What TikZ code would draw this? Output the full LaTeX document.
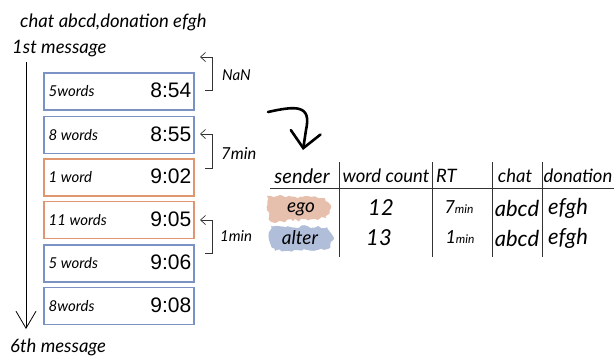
\documentclass[tikz,border=0pt]{standalone}
\usepackage{fontspec}
\setmainfont{Lato}
\newfontfamily\timefont{Liberation Sans}
\usetikzlibrary{arrows.meta,decorations.pathmorphing}
\definecolor{boxblue}{RGB}{122,146,196}
\definecolor{boxorange}{RGB}{224,150,110}
\definecolor{blobor}{RGB}{222,170,145}
\definecolor{blobbl}{RGB}{150,168,205}
\tikzset{
  msg/.style={draw=#1, line width=1.1pt, minimum width=150pt, minimum height=37pt, inner sep=0pt},
  hand/.style={font=\fontsize{15}{15}\selectfont\itshape, inner sep=0pt},
  bighand/.style={font=\fontsize{18.5}{18.5}\selectfont\itshape, inner sep=0pt},
  cellhand/.style={font=\fontsize{22}{22}\selectfont\itshape, inner sep=0pt},
  tim/.style={font=\timefont\fontsize{21}{21}\selectfont, inner sep=0pt, anchor=east},
  brk/.style={line width=0.7pt, black!80, -{Straight Barb[length=5pt,width=9pt]}},
  tline/.style={line width=0.7pt, black!80},
  blob/.style={fill=#1, fill opacity=0.75, decorate, decoration={random steps, segment length=3pt, amplitude=1.5pt}}
}
\begin{document}
\begin{tikzpicture}[x=1pt,y=-1pt]
\useasboundingbox (0,0) rectangle (614,360);
\pgfmathsetseed{7}
% headings
\node[bighand, anchor=west] (title) at (20,22) {chat abcd,donation efgh};
\node[bighand, anchor=west] (first) at (12,49) {1st message};
\node[bighand, anchor=west] (last) at (10,347) {6th message};
% time line
\coordinate (ttop) at (26,62);
\coordinate (tbot) at (26,329);
\draw[line width=0.8pt, -{Straight Barb[length=17pt,width=20pt]}] (ttop) -- (tbot);
% message boxes
\node[msg=boxblue] (m1) at (119,91.5) {};
\node[msg=boxblue] (m2) at (119,135) {};
\node[msg=boxorange] (m3) at (119,177.5) {};
\node[msg=boxorange] (m4) at (119,220) {};
\node[msg=boxblue] (m5) at (119,263.5) {};
\node[msg=boxblue] (m6) at (119,306) {};
\foreach \n/\w/\t in {m1/5words/8:54, m2/8 words/8:55, m3/1 word/9:02, m4/11 words/9:05, m5/5 words/9:06, m6/8words/9:08}{
  \node[hand, anchor=west] (\n w) at ([xshift=5pt]\n.west) {\w};
  \node[tim] (\n t) at ([xshift=-3pt,yshift=1pt]\n.east) {\t};
}
% brackets
\coordinate (b1a) at (205,90); \coordinate (b1b) at (212,90); \coordinate (b1c) at (212,57); \coordinate (b1d) at (200,57);
\draw[brk] (b1a) -- (b1b) -- (b1c) -- (b1d);
\node[hand, anchor=west] (nan) at (222,75) {NaN};
\coordinate (b2a) at (205,168); \coordinate (b2b) at (212,168); \coordinate (b2c) at (212,134); \coordinate (b2d) at (200,134);
\draw[brk] (b2a) -- (b2b) -- (b2c) -- (b2d);
\node[hand, anchor=west, font=\fontsize{16.5}{16.5}\selectfont\itshape] (s7) at (221,153) {7min};
\coordinate (b3a) at (205,253); \coordinate (b3b) at (212,253); \coordinate (b3c) at (212,220); \coordinate (b3d) at (200,220);
\draw[brk] (b3a) -- (b3b) -- (b3c) -- (b3d);
\node[hand, anchor=west] (s1) at (220,236) {1min};
% curved arrow
\coordinate (ca) at (268,112);
\coordinate (cb) at (303,150);
\draw[line width=2.6pt, line cap=round, -{Straight Barb[length=16pt,width=30pt,line cap=round]}] (ca) .. controls (295,106) and (312,104) .. (306,130) -- (cb);
% table
\coordinate (hl) at (270,188); \coordinate (hr) at (614,188);
\draw[tline] (hl) -- (hr);
\foreach \x [count=\i] in {339,432,492,542}{
  \coordinate (vt\i) at (\x,162); \coordinate (vb\i) at (\x,257);
  \draw[tline] (vt\i) -- (vb\i);
}
\node[bighand, font=\fontsize{20}{20}\selectfont\itshape] (hs) at (302,176) {sender};
\node[bighand] (hw) at (386,176) {word count};
\node[bighand, anchor=west] (hrt) at (436,176) {RT};
\node[bighand] (hc) at (515,176) {chat};
\node[bighand] (hd) at (578,176) {donation};
% blobs
\fill[blob=blobor] (267,196) -- (325,198) -- (331,208) -- (326,218) -- (271,222) -- (267,210) -- cycle;
\fill[blob=blobbl] (271,226) -- (327,227) -- (334,238) -- (328,249) -- (275,251) -- (269,240) -- cycle;
\node[hand, font=\fontsize{19}{19}\selectfont\itshape] (ego) at (301,209) {ego};
\node[hand, font=\fontsize{19}{19}\selectfont\itshape] (alter) at (300,238) {alter};
\node[cellhand] (w1) at (381,208) {12};
\node[cellhand] (w2) at (379,238) {13};
\node[hand, font=\fontsize{18}{18}\selectfont\itshape] (r1) at (459,207) {7\fontsize{12}{12}\selectfont min};
\node[hand, font=\fontsize{18}{18}\selectfont\itshape] (r2) at (460,237) {1\fontsize{12}{12}\selectfont min};
\node[cellhand] (c1) at (517,208) {abcd};
\node[cellhand] (c2) at (517,238) {abcd};
\node[cellhand] (d1) at (568,208) {efgh};
\node[cellhand] (d2) at (568,238) {efgh};
\end{tikzpicture}
\end{document}
